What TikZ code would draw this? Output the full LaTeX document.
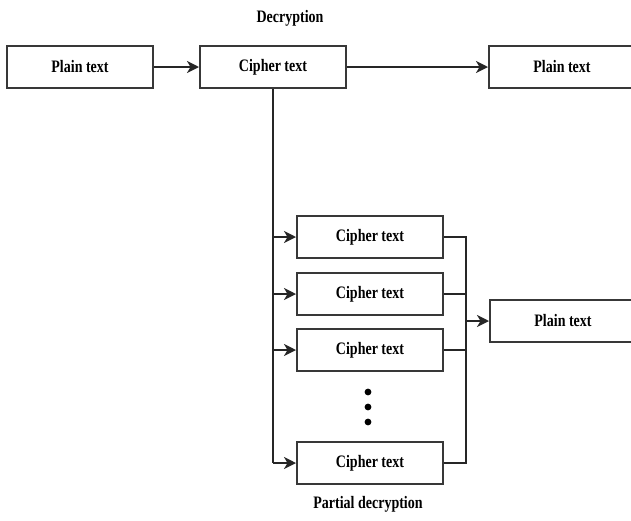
\documentclass[tikz,border=0pt]{standalone}
\usepackage{fontspec}
\setmainfont[FakeStretch=0.8]{Liberation Serif}
\usetikzlibrary{arrows.meta}
\newcommand{\lblfont}{\fontsize{17.5}{20}\selectfont\bfseries}
\begin{document}
\begin{tikzpicture}[x=1pt,y=-1pt,
  box/.style={draw=black!78, line width=2pt, fill=white, minimum width=146pt,
              minimum height=42pt, inner sep=0pt, font=\lblfont},
  lbl/.style={inner sep=0pt, font=\lblfont},
  link/.style={draw=black!85, line width=2pt},
  arr/.style={link, -{Stealth[length=12pt,width=12pt,inset=3.5pt]}}]
\useasboundingbox (0,0) rectangle (631,520);

% top row: plain -> cipher -> plain
\node[box] (p1) at (80,67) {Plain text};
\node[box] (c0) at (273,67) {Cipher text};
\node[box] (p2) at (562,67) {Plain text};
\node[lbl] (dec) at (290,18) {Decryption};

% partial decryption branch
\node[box] (c1) at (370,237) {Cipher text};
\node[box] (c2) at (370,294) {Cipher text};
\node[box] (c3) at (370,350) {Cipher text};
\node[box] (c4) at (370,463) {Cipher text};
\node[box] (p3) at (563,321) {Plain text};
\node[lbl] (pdec) at (368,504) {Partial decryption};

% vertical ellipsis
\node[inner sep=0pt, minimum width=10pt, minimum height=40pt] (dots) at (368,407) {};
\foreach \yy in {-15,0,15}
  \fill ([yshift=\yy pt]dots.center) circle (3.4pt);

% top connectors
\draw[arr] (p1) -- (c0);
\draw[arr] (c0) -- (p2);

% trunk from the cipher text down to the branches
\coordinate (tbot) at (c0.south |- c4.west);
\draw[link] (c0.south) -- (tbot);
\foreach \n in {c1,c2,c3,c4}
  \draw[arr] (c0.south |- \n.west) -- (\n.west);

% merging bus into the final plain text
\coordinate (mtop) at ([xshift=-23pt]p3.west |- c1.east);
\coordinate (mbot) at (mtop |- c4.east);
\draw[link] (c1.east) -- (mtop) -- (mbot) -- (c4.east);
\draw[link] (c2.east) -- (c2.east -| mtop);
\draw[link] (c3.east) -- (c3.east -| mtop);
\draw[arr] (mtop |- p3.west) -- (p3.west);
\end{tikzpicture}
\end{document}
